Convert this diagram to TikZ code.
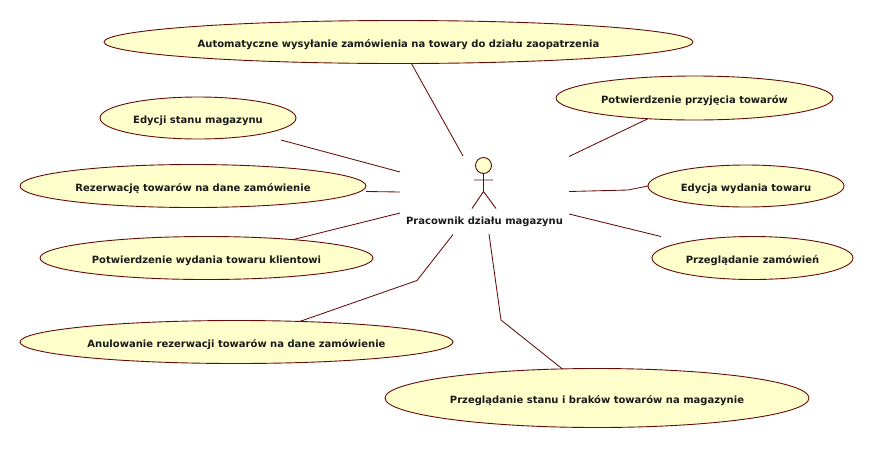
\documentclass[tikz,border=0pt]{standalone}
\usepackage{fontspec}
\setmainfont{DejaVu Sans}
\usetikzlibrary{shapes.geometric}
\definecolor{umlline}{HTML}{660A0A}
\definecolor{umlfill}{HTML}{FFFFCB}
\tikzset{
  usecase/.style={shape=ellipse,draw=umlline,fill=umlfill,line width=0.9pt,inner sep=0pt,outer sep=0pt,
    text height=10pt,text depth=0pt,
    font=\bfseries\fontsize{10}{12}\selectfont,text=black!90},
  assoc/.style={draw=umlline,line width=0.85pt},
  actorline/.style={draw=umlline,line width=0.9pt},
  actorlabel/.style={inner sep=0pt,font=\bfseries\fontsize{10}{12}\selectfont,text=black!90},
}
\begin{document}
\begin{tikzpicture}[x=1pt,y=-1pt]
\useasboundingbox (0,0) rectangle (873,448);
% use cases
\node[usecase,minimum width=589pt,minimum height=43pt] (auto) at (398.5,42) {Automatyczne wysyłanie zamówienia na towary do działu zaopatrzenia};
\node[usecase,minimum width=196pt,minimum height=42pt] (edycji) at (198,118) {Edycji stanu magazynu};
\node[usecase,minimum width=346pt,minimum height=43pt] (rezerw) at (193,186) {Rezerwację towarów na dane zamówienie};
\node[usecase,minimum width=333pt,minimum height=43pt] (potwwyd) at (206.5,258) {Potwierdzenie wydania towaru klientowi};
\node[usecase,minimum width=433pt,minimum height=43pt] (anul) at (236.5,342) {Anulowanie rezerwacji towarów na dane zamówienie};
\node[usecase,minimum width=424pt,minimum height=59pt] (stan) at (597,398) {Przeglądanie stanu i braków towarów na magazynie};
\node[usecase,minimum width=277pt,minimum height=44pt] (potwprz) at (694.5,98) {Potwierdzenie przyjęcia towarów};
\node[usecase,minimum width=196pt,minimum height=42pt] (edycja) at (746,186) {Edycja wydania towaru};
\node[usecase,minimum width=201pt,minimum height=43pt] (zam) at (752.5,258) {Przeglądanie zamówień};
% actor
\node[shape=circle,draw=umlline,fill=umlfill,line width=0.9pt,minimum size=16pt,inner sep=0pt,outer sep=0pt] (head) at (483.5,165.5) {};
\coordinate (hip) at (483.5,191.5);
\coordinate (armL) at (474,180);
\coordinate (armR) at (493,180);
\coordinate (legL) at (472,208.5);
\coordinate (legR) at (496,208.5);
\draw[actorline] (head.south) -- (hip) (armL) -- (armR) (legL) -- (hip) -- (legR);
\node[actorlabel] (actor) at (484.5,221.5) {Pracownik działu magazynu};
% free ends near the actor
\coordinate (c1) at (463,156);
\coordinate (c2) at (400,172);
\coordinate (c3) at (400,192);
\coordinate (c4) at (400,213);
\coordinate (c5) at (453,234.5);
\coordinate (c6) at (489,234);
\coordinate (c7) at (569,214);
\coordinate (c8) at (569,191.5);
\coordinate (c9) at (569,156.5);
% free ends near the ellipses
\coordinate (e2) at (281,140);
\coordinate (e3) at (366,191.5);
\coordinate (e7) at (661,236.5);
% bends
\coordinate (b5) at (417,280.5);
\coordinate (b6) at (501,320);
\coordinate (b8) at (628,190);
% connectors
\draw[assoc] (auto.-59.2) -- (c1);
\draw[assoc] (e2) -- (c2);
\draw[assoc] (e3) -- (c3);
\draw[assoc] (potwwyd.12.7) -- (c4);
\draw[assoc] (anul.18.3) -- (b5) -- (c5);
\draw[assoc] (stan.140.4) -- (b6) -- (c6);
\draw[assoc] (e7) -- (c7);
\draw[assoc] (edycja.west) -- (b8) -- (c8);
\draw[assoc] (potwprz.204.8) -- (c9);
\end{tikzpicture}
\end{document}
